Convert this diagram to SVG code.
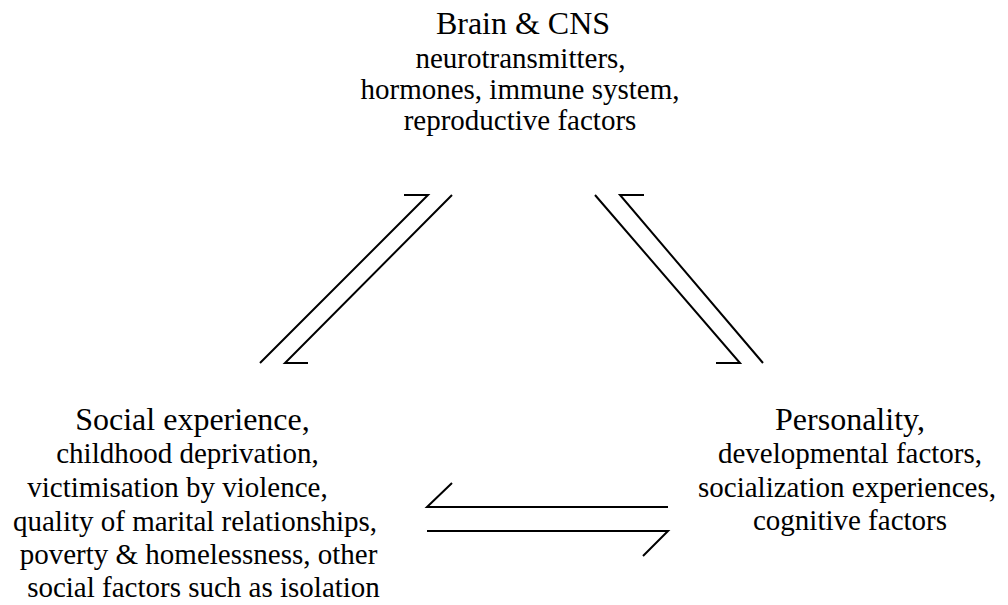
<svg xmlns="http://www.w3.org/2000/svg" width="1008" height="605" viewBox="0 0 1008 605">
<style>
.t{font-family:'Liberation Serif','Times New Roman',serif;fill:#000;text-anchor:middle}
.h{font-size:32px}
.s{font-size:29px}
.c{fill:none;stroke:#000;stroke-width:2;stroke-linejoin:miter;stroke-linecap:butt}
</style>
<rect width="1008" height="605" fill="#fff"/>
<g id="brain" class="t">
<text class="h" x="523" y="34">Brain &amp; CNS</text>
<text class="s" x="520.5" y="68">neurotransmitters,</text>
<text class="s" x="520" y="99">hormones, immune system,</text>
<text class="s" x="520" y="130">reproductive factors</text>
</g>
<g id="social" class="t">
<text class="h" x="192.5" y="430">Social experience,</text>
<text class="s" x="187.5" y="463">childhood deprivation,</text>
<text class="s" x="177.5" y="497">victimisation by violence,</text>
<text class="s" x="195" y="531">quality of marital relationships,</text>
<text class="s" x="198.5" y="564">poverty &amp; homelessness, other</text>
<text class="s" x="203.5" y="597">social factors such as isolation</text>
</g>
<g id="personality" class="t">
<text class="h" x="850" y="430">Personality,</text>
<text class="s" x="850" y="463">developmental factors,</text>
<text class="s" x="847" y="497">socialization experiences,</text>
<text class="s" x="850" y="530">cognitive factors</text>
</g>
<g id="connectors">
<polyline class="c" points="260,363 428,195 404,195"/>
<polyline class="c" points="452,195 285,363 308,363"/>
<polyline class="c" points="595,195 740,363 716,363"/>
<polyline class="c" points="763,363 620,195 644,195"/>
<polyline class="c" points="668,507 427,507 452,483"/>
<polyline class="c" points="427,531 668,531 643,556"/>
</g>
</svg>
